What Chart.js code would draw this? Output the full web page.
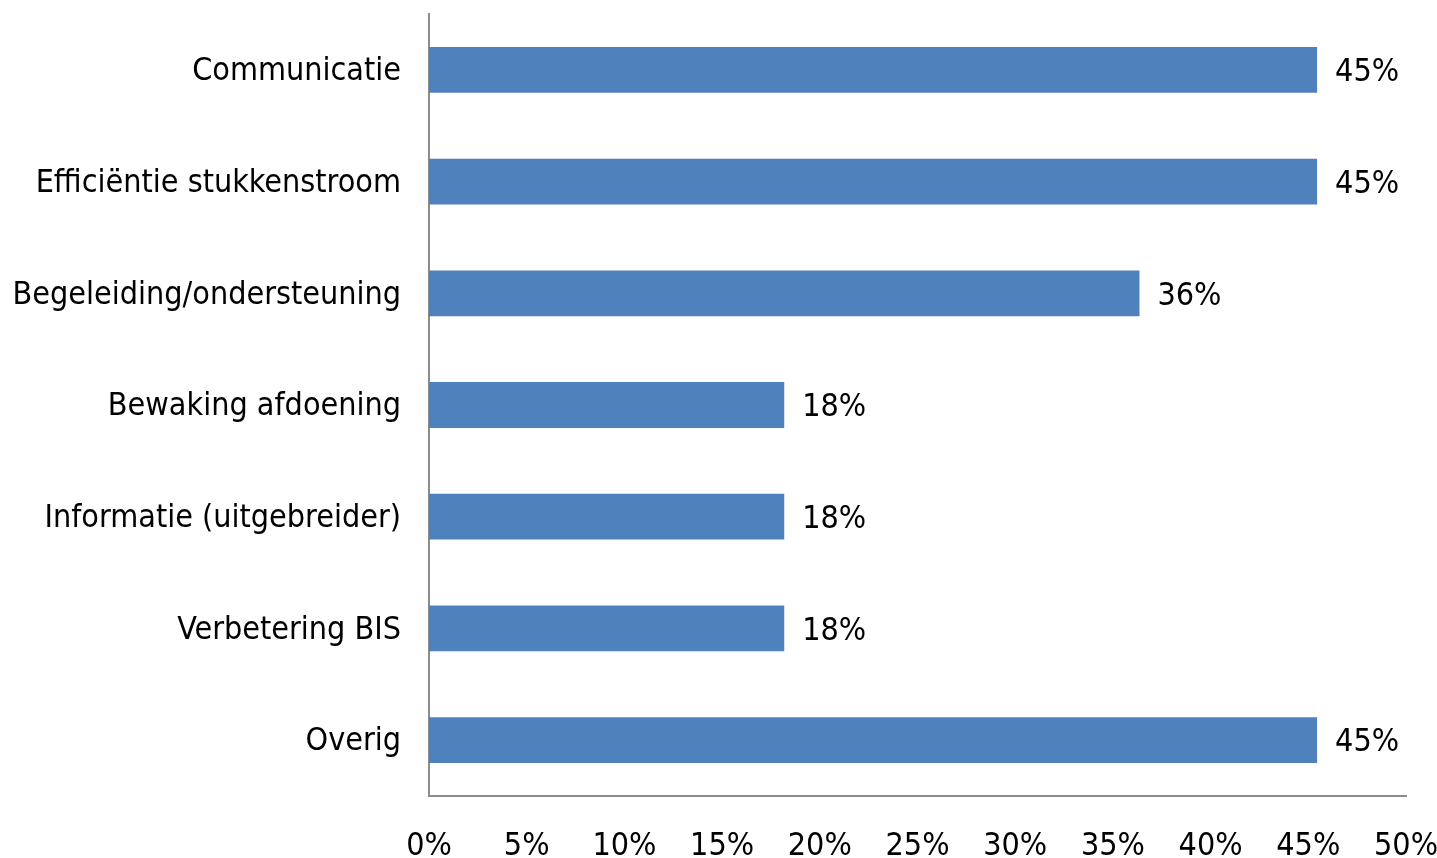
<!DOCTYPE html>
<html>
<head>
<meta charset="utf-8">
<script src="https://cdn.jsdelivr.net/npm/chart.js@4"></script>
<style>
  html, body { margin: 0; padding: 0; background: #fff; }
  #wrap { width: 1437px; height: 858px; }
</style>
</head>
<body>
<div id="wrap"><canvas id="chart"></canvas></div>
<script>
// categorieën en aandelen (in %)
const categorieen = [
  'Communicatie',
  'Efficiëntie stukkenstroom',
  'Begeleiding/ondersteuning',
  'Bewaking afdoening',
  'Informatie (uitgebreider)',
  'Verbetering BIS',
  'Overig'
];
const aandelen = [45.45, 45.45, 36.36, 18.18, 18.18, 18.18, 45.45];
const asTicks = [0, 5, 10, 15, 20, 25, 30, 35, 40, 45, 50];

const FONT = { family: '"DejaVu Sans Condensed", "DejaVu Sans", sans-serif', size: 32 };

// waardelabels rechts naast de balken
const waardeLabels = {
  id: 'waardeLabels',
  afterDatasetsDraw(chart) {
    const ctx = chart.ctx;
    const meta = chart.getDatasetMeta(0);
    ctx.save();
    ctx.font = `${FONT.size}px ${FONT.family}`;
    ctx.fillStyle = '#000';
    ctx.textAlign = 'left';
    ctx.textBaseline = 'middle';
    meta.data.forEach((bar, i) => {
      ctx.fillText(Math.round(aandelen[i]) + '%', bar.x + 18, bar.y + 3);
    });
    ctx.restore();
  }
};

new Chart(document.getElementById('chart'), {
  type: 'bar',
  data: {
    labels: categorieen,
    datasets: [{
      data: aandelen,
      backgroundColor: '#4f81bd',
      borderWidth: 0,
      categoryPercentage: 1,
      barPercentage: 0.41
    }]
  },
  options: {
    indexAxis: 'y',
    responsive: true,
    maintainAspectRatio: false,
    animation: false,
    layout: { padding: { top: 14, left: 0, right: 0, bottom: 0 } },
    plugins: { legend: { display: false }, tooltip: { enabled: false } },
    scales: {
      x: {
        min: 0,
        max: 50,
        afterBuildTicks(s) { s.ticks = asTicks.map(v => ({ value: v })); },
        grid: { display: false, drawTicks: true, tickLength: 31 },
        border: { display: true, color: '#8c8c8c', width: 2 },
        ticks: {
          padding: 0,
          color: '#000',
          font: FONT,
          maxRotation: 0,
          callback: v => v + '%'
        },
        afterFit(s) {
          s.height = 62;
          s.paddingLeft = 0;
          s.paddingRight = 31;
        }
      },
      y: {
        grid: { display: false, drawTicks: true, tickLength: 28 },
        border: { display: true, color: '#8c8c8c', width: 2 },
        ticks: { padding: 0, labelOffset: 2, color: '#000', font: FONT, autoSkip: false },
        afterFit(s) {
          s.width = 429;
          s.paddingTop = 0;
          s.paddingBottom = 0;
        }
      }
    }
  },
  plugins: [waardeLabels]
});
</script>
</body>
</html>
